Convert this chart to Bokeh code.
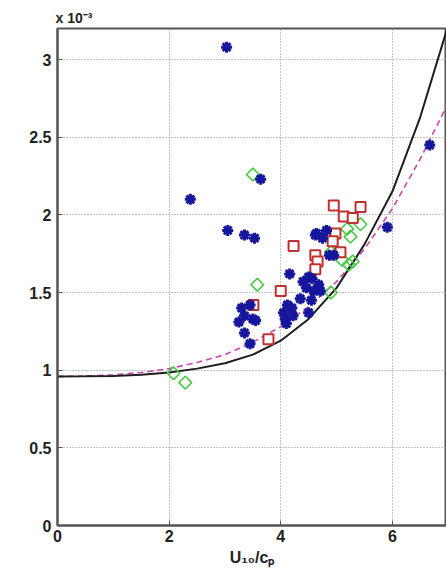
import math
from bokeh.plotting import figure
from bokeh.models import Range1d, FixedTicker, Title
from bokeh.embed import file_html
from bokeh.resources import INLINE

# ---- data (y in units of 1e-3) ----
star_x = [3.03, 2.38, 3.64, 3.05, 3.35, 3.53, 4.16, 3.30, 3.45, 3.35, 3.50, 3.25, 3.55, 3.35,
          3.45, 4.05, 4.12, 4.20, 4.08, 4.22, 4.10, 4.50, 4.35, 4.46, 4.59, 4.50, 4.56, 4.62,
          4.75, 4.82, 4.64, 4.87, 4.95, 4.71, 5.91, 6.67, 4.40, 4.68, 4.55]
star_y = [3.08, 2.10, 2.23, 1.90, 1.87, 1.85, 1.62, 1.40, 1.42, 1.35, 1.33, 1.31, 1.32, 1.24,
          1.17, 1.37, 1.42, 1.40, 1.33, 1.35, 1.30, 1.37, 1.46, 1.53, 1.51, 1.60, 1.59, 1.87,
          1.85, 1.90, 1.88, 1.74, 1.74, 1.51, 1.92, 2.45, 1.57, 1.55, 1.45]

sq_x = [4.23, 4.00, 3.51, 3.78, 4.15, 4.62, 4.66, 4.62, 4.95, 5.43, 5.13, 5.29, 4.98, 4.93, 5.07]
sq_y = [1.80, 1.51, 1.42, 1.20, 1.38, 1.74, 1.70, 1.65, 2.06, 2.05, 1.99, 1.98, 1.88, 1.83, 1.76]

dia_x = [3.50, 3.58, 5.43, 5.19, 5.25, 4.90, 5.10, 5.29, 4.90, 2.29, 2.08, 5.22]
dia_y = [2.26, 1.55, 1.94, 1.91, 1.86, 1.76, 1.71, 1.70, 1.50, 0.92, 0.98, 1.68]

curve_x = [0, 0.5, 1, 1.5, 2, 2.5, 3, 3.5, 4, 4.5, 5, 5.5, 6, 6.5, 7]
solid_y = [0.960, 0.961, 0.963, 0.970, 0.985, 1.010, 1.045, 1.100, 1.190, 1.330, 1.530,
           1.810, 2.150, 2.630, 3.220]
dash_y = [0.960, 0.962, 0.970, 0.985, 1.010, 1.050, 1.100, 1.180, 1.280, 1.410, 1.570,
          1.780, 2.040, 2.360, 2.720]

x_ticks = [0, 2, 4, 6]
y_ticks = [0, 0.5, 1, 1.5, 2, 2.5, 3]
y_tick_labels = {0: "0", 0.5: "0.5", 1: "1", 1.5: "1.5", 2: "2", 2.5: "2.5", 3: "3"}

p = figure(width=446, height=571, output_backend="svg", toolbar_location=None,
           x_range=Range1d(0, 6.97), y_range=Range1d(0, 3.2),
           min_border_left=57, min_border_right=0, min_border_top=28, min_border_bottom=46)

p.add_layout(Title(text="x 10\u207b\u00b3", align="left", text_font="Liberation Sans",
                   text_font_style="bold", text_font_size="14px", text_color="#222222",
                   standoff=6, offset=-2), "above")

p.outline_line_color = "#555555"
p.outline_line_width = 2
p.background_fill_color = "white"

for ax in (p.xaxis[0], p.yaxis[0]):
    ax.axis_line_color = "#555555"
    ax.axis_line_width = 2
    ax.major_tick_in = 5
    ax.major_tick_out = 0
    ax.major_tick_line_color = "#555555"
    ax.minor_tick_line_color = None
    ax.major_label_text_font = "Liberation Sans"
    ax.major_label_text_font_style = "bold"
    ax.major_label_text_font_size = "16px"
    ax.major_label_text_color = "#222222"

p.xaxis.ticker = FixedTicker(ticks=x_ticks)
p.yaxis.ticker = FixedTicker(ticks=y_ticks)
p.yaxis.major_label_overrides = y_tick_labels
p.xaxis.major_label_standoff = 4
p.yaxis.major_label_standoff = 6

p.xaxis.axis_label = "U\u2081\u2080/c\u209a"
p.xaxis.axis_label_text_font = "Liberation Sans"
p.xaxis.axis_label_text_font_style = "bold"
p.xaxis.axis_label_text_font_size = "16px"
p.xaxis.axis_label_text_color = "#222222"
p.xaxis.axis_label_standoff = 4

p.xgrid.ticker = FixedTicker(ticks=x_ticks)
p.ygrid.ticker = FixedTicker(ticks=y_ticks)
for g in (p.xgrid[0], p.ygrid[0]):
    g.grid_line_color = "#8a8a8a"
    g.grid_line_dash = "1 2"
    g.grid_line_width = 1

p.line(curve_x, dash_y, line_color="#cc44aa", line_width=1.6, line_dash="6 4")
p.line(curve_x, solid_y, line_color="#1e1e1e", line_width=2)

p.scatter(dia_x, dia_y, marker="square", size=9, angle=math.pi / 4, fill_color=None,
          line_color="#44cc44", line_width=1.6)
p.scatter(sq_x, sq_y, marker="square", size=10, fill_color="white",
          line_color="#c03030", line_width=2)
p.scatter(star_x, star_y, marker="asterisk", size=11, line_color="#16169c", line_width=3)
p.scatter(star_x, star_y, marker="circle", size=5, fill_color="#16169c", line_color=None)

open("out.html", "w").write(file_html(p, INLINE))
